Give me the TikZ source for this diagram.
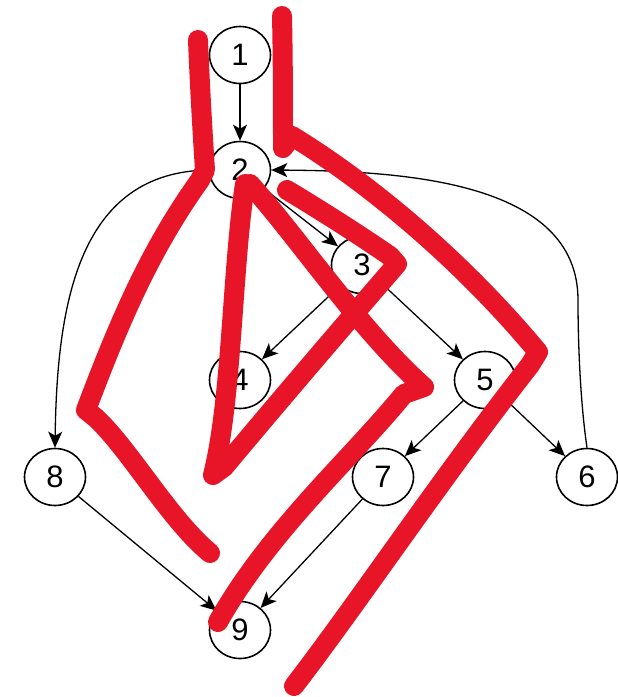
\documentclass[tikz,border=0pt]{standalone}
\usepackage{fontspec}
\setmainfont{Liberation Sans}
\usetikzlibrary{shapes.geometric,arrows.meta}
\definecolor{pen}{RGB}{232,20,40}
\begin{document}
\begin{tikzpicture}[x=1pt,y=-1pt,
 vert/.style={ellipse,draw,line width=1.6pt,fill=white,minimum width=61pt,minimum height=57pt,inner sep=0pt,font=\fontsize{31}{31}\selectfont},
 edge/.style={line width=1.3pt,-{Stealth[length=16pt,width=14pt,inset=4pt]}},
 ink/.style={pen,line width=20pt,line cap=round,line join=round}]
\useasboundingbox (0,0) rectangle (618,697);
\node[vert] (n1) at (240,55) {1};
\node[vert] (n2) at (240,170) {2};
\node[vert] (n3) at (362,265) {3};
\node[vert] (n4) at (240,380) {4};
\node[vert] (n5) at (485,380) {5};
\node[vert] (n6) at (587,477) {6};
\node[vert] (n7) at (383,477) {7};
\node[vert] (n8) at (55,477) {8};
\node[vert] (n9) at (240,630) {9};
\draw[edge] (n1) -- (n2);
\draw[edge] (n2) -- (n3);
\draw[edge] (n3) -- (n4);
\draw[edge] (n3) -- (n5);
\draw[edge] (n5) -- (n7);
\draw[edge] (n5) -- (n6);
\draw[edge] (n7) -- (n9);
\draw[edge] (n8) -- (n9);
\draw[edge] (n2.west) .. controls (80,172) and (57,300) .. (n8.north);
\draw[edge] (n6.north) .. controls (580,400) and (578,340) .. (578,300) .. controls (578,180) and (400,171) .. (n2.east);
% red strokes
\draw[ink] (198,40) .. controls (200,90) and (203,140) .. (205,170)
  -- (200,180) .. controls (150,250) and (120,320) .. (86,410)
  -- (96,418) .. controls (130,450) and (170,520) .. (210,553);
\draw[ink] (282,16) .. controls (283,60) and (283,110) .. (283,148)
  -- (292,136) .. controls (380,190) and (470,270) .. (538,352)
  -- (530,365) .. controls (440,480) and (360,600) .. (294,686);
\draw[ink] (245,184) .. controls (232,270) and (232,400) .. (213,475)
  -- (224,467) .. controls (280,400) and (340,330) .. (397,264)
  -- (390,256) .. controls (355,232) and (320,210) .. (287,190);
\draw[ink] (250,184) .. controls (300,240) and (360,330) .. (424,387)
  -- (404,394) .. controls (350,460) and (270,530) .. (218,622);
\end{tikzpicture}
\end{document}
